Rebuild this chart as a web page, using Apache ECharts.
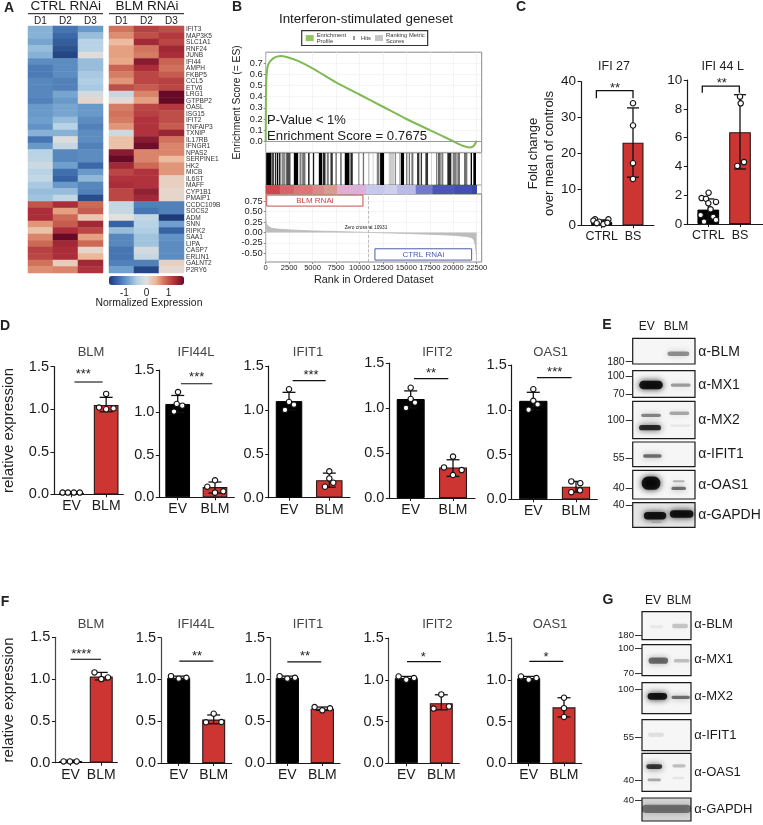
<!DOCTYPE html>
<html><head><meta charset="utf-8">
<style>html,body{margin:0;padding:0;background:#fff}#c{width:763px;height:825px}</style>
<script src="https://cdn.jsdelivr.net/npm/echarts@6/dist/echarts.min.js"></script>
</head><body><div id="c"></div>
<script>
// ---------- DATA: heatmap ----------
const genes=['IFIT3','MAP3K5','SLC1A1','RNF24','JUNB','IFI44','AMPH','FKBP5','CCL5','ETV6','LRG1','GTPBP2','OASL','ISG15','IFIT2','TNFAIP3','TXNIP','IL17RB','IFNGR1','NPAS2','SERPINE1','HK2','MICB','IL6ST','MAFF','CYP1B1','PMAIP1','CCDC109B','SOCS2','ADM','SNN','RIPK2','SAA1','LIPA','CASP7','ERLIN1','GALNT2','P2RY6'];
const donors=['D1','D2','D3'];
const ctrlValues=[[-.7,-1.2,-.9],[-.7,-1.3,-.6],[-.8,-1.4,-.4],[-.6,-1.5,-.4],[-.7,-1.6,-.05],[-1,-1,-.6],[-1.15,-1,-.6],[-1.15,-1,-.5],[-1.05,-1.1,-.45],[-1.05,-1.1,-.5],[-1.05,-.8,-.15],[-1.1,-.9,.1],[-.9,-.8,-.9],[-.9,-.8,-.9],[-.85,-.6,-1],[-.95,-.4,-1.1],[-.7,-.7,-1],[-1.2,-.05,-1],[-.9,-.25,-1.1],[-.4,-1.05,-1],[-.35,-1.05,-1],[-.2,-.85,-1.3],[-.4,-1.25,-.9],[-.3,-1.35,-.65],[-.5,-.9,-1.05],[-.6,-.6,-1.1],[-.55,-.3,-1.55],[1,1.3,.85],[1.3,.55,.95],[1.3,.85,.25],[.6,.95,1.35],[.3,1.3,1.1],[.7,1.7,.55],[.85,1.35,.85],[1.15,1.3,.1],[1.1,1.3,.4],[.8,.2,1.35],[.65,.7,1.25]];
const blmValues=[[.8,1.15,1.05],[.65,1.05,1.2],[.35,1.35,1.1],[.55,.8,1.35],[.55,.75,1.3],[.5,1.5,.9],[.9,1.3,.8],[.75,1.1,.95],[.6,1.1,1.15],[1.05,.95,1.1],[-.25,.7,1.8],[.05,.55,1.7],[.75,1.1,1.2],[.8,1.15,1.05],[.75,1.25,1.05],[.6,1.25,.95],[-.2,1.25,1.4],[.3,1.5,.8],[.3,1.65,.7],[1.5,.7,.7],[1.75,.7,.35],[1.35,.85,.6],[1.1,1.25,.6],[1.25,1.25,.15],[1.3,1.25,.15],[1.1,1.45,.1],[1.1,1.35,.1],[-.3,-1.1,-1.1],[-.25,-1.2,-1.1],[0,-.3,-1.8],[-1.35,-.4,-.85],[-.6,-.45,-1.35],[-1.05,-.55,-.95],[-1.05,-.55,-1],[-1.2,-.15,-1],[-1.2,-.25,-1],[-1.1,-1.1,.15],[-.85,-1.6,.05]];
// ---------- DATA: GSEA ----------
const esCurve=[[0,0],[15,.3],[40,.5],[100,.6],[200,.67],[400,.71],[800,.745],[1200,.76],[1700,.765],[2500,.75],[3500,.72],[5000,.655],[7500,.53],[10000,.42],[12500,.31],[15000,.2],[17500,.1],[20000,0],[21000,-.04],[21800,-.055],[22200,-.04],[22500,.005]];
const hitSegments=[[50,620,1],[690,870,.85],[975,1120,.85],[1190,1330,1],[1400,1580,.85],[1690,2110,.45],[2185,2645,.7],[3000,3460,1],[3600,3820,.5],[3890,4240,.55],[4530,4670,1],[5025,5170,.9],[5665,6020,1],[6090,6375,.85],[6515,6730,.5],[6905,7155,.8],[7440,7580,.6],[7970,8080,.85],[8430,8930,1],[9035,9285,.85],[9855,10000,.4],[10350,10495,.55],[10920,11060,.25],[11416,11487,.25],[11842,12126,.5],[12197,12623,1],[13120,13689,.2],[13760,13902,.45],[14257,14328,.45],[14399,14754,1],[14967,15109,.55],[15251,15393,.55],[15535,15748,.55],[16139,16387,.8],[16529,16671,.8],[17027,17311,.8],[17666,17737,.25],[18163,18305,.5],[18376,18660,.6],[18731,18944,.5],[19370,19796,.85],[19938,20365,.5],[20436,20720,.55],[21146,21501,.55],[21856,21998,1],[22140,22424,1]];
const stripSegments=[[0,1500,0],[1500,3000,1],[3000,5000,2],[5000,6200,3],[6200,7600,4],[7600,9000,5],[9000,10700,6],[10700,12700,7],[12700,14000,8],[14000,16000,9],[16000,17800,10],[17800,20000,11],[20000,22000,12],[22000,22480,13]];
const metricCurve=[[0,.32],[60,.22],[150,.17],[300,.13],[600,.1],[1200,.08],[2500,.06],[5000,.035],[7500,.02],[10000,.005],[10931,0],[12500,-.01],[15000,-.025],[17500,-.045],[20000,-.07],[21500,-.1],[22000,-.13],[22200,-.18],[22350,-.3],[22450,-.5],[22500,-.7]];
const rankTicks=[0,2500,5000,7500,10000,12500,15000,17500,20000,22500];
const esTicks=[0,.1,.2,.3,.4,.5,.6,.7];
const metricTicks=[.75,.5,.25,0,-.25,-.5];
const zeroCross=10931;
// ---------- DATA: panel C ----------
const cNames=['IFI 27','IFI 44 L'];
const cCats=['CTRL','BS'];
const cMeans=[[1,23],[1,6.38]];
const cErr=[[[.5,1.5],[13.4,32.7]],[[.3,1.74],[3.82,8.98]]];
const cPoints=[[[1.67,1.67,1,.7,1.3,.3,.6,.7],[34,27.8,17.3,12.9]],[[2.17,1.8,1.75,1.53,1.44,1.02,.62,.5,.16,.28],[8.84,8.38,4.3,4.03]]];
const cSig=[[.83,2,37.5,35.4,'**'],[.81,1.98,9.58,9.12,'**']];
// ---------- DATA: panel D ----------
const expressionGenes=['BLM','IFI44L','IFIT1','IFIT2','OAS1'];
const expressionCats=['EV','BLM'];
const dMeans=[[.02,1.05],[1.1,.12],[1.1,.2],[1.1,.34],[1.1,.14]];
const dErr=[[[0,.03],[.97,1.14]],[[1,1.2],[.05,.18]],[[1,1.2],[.12,.28]],[[1,1.19],[.24,.425]],[[1,1.195],[.08,.2]]];
const dPoints=[[[.02,.02,.02,.02],[1.18,1.02,1,1.01]],[[1.24,1.08,1.1,1.01],[.2,.125,.07,.055]],[[1.235,1.09,1.06,1],[.3,.22,.17,.125]],[[1.225,1.1,1.06,1],[.46,.34,.31,.255]],[[1.23,1.1,1.06,1],[.2,.18,.1,.08]]];
const dSig=[[1.085,1.897,1.32,null,'***'],[1.087,1.927,1.338,null,'***'],[1.09,1.91,1.333,null,'***'],[1.078,1.889,1.326,null,'**'],[1.086,1.897,1.359,null,'***']];
// ---------- DATA: panel F ----------
const fMeans=[[.02,1.03],[1.02,.52],[1.02,.65],[1.02,.72],[1.02,.67]];
const fErr=[[[0,.03],[.99,1.08]],[[1,1.04],[.47,.575]],[[1,1.04],[.63,.67]],[[1,1.04],[.64,.82]],[[1,1.04],[.555,.785]]];
const fPoints=[[[.015,.015,.015],[1.08,1,1.02]],[[1.04,1.01,1.02],[.487,.59,.49]],[[1.04,1.01,1.02],[.67,.63,.655]],[[1.04,1,1.02],[.655,.825,.68]],[[1.04,1,1.02],[.785,.66,.555]]];
const fSig=[[1,1.99,1.237,null,'****'],[1.017,1.989,1.22,null,'**'],[1,1.97,1.21,null,'**'],[1.02,1.99,1.217,null,'*'],[1.017,1.98,1.22,null,'*']];
// ---------- DATA: blots (lane x, y, half-width, half-height as blot fractions, darkness) ----------
const blotLanes=['EV','BLM'];
const blotNames=['α-BLM','α-MX1','α-MX2','α-IFIT1','α-OAS1','α-GAPDH'];
const blotEBands=[[[.733,.6,.176,.09,.45]],[[.294,.54,.19,.16,1],[.77,.54,.16,.06,.4]],[[.294,.375,.16,.045,.5],[.278,.705,.176,.07,.9],[.749,.32,.16,.045,.35],[.76,.65,.16,.03,.08]],[[.316,.57,.15,.07,.6]],[[.294,.45,.15,.23,1],[.738,.38,.096,.035,.3],[.738,.63,.118,.06,.6]],[[.358,.53,.18,.15,1],[.786,.46,.19,.15,1],[.385,.8,.08,.03,.2]]];
const blotGBands=[[[.3,.536,.136,.06,.06],[.776,.51,.163,.08,.22]],[[.333,.516,.2,.1,.6],[.81,.516,.163,.055,.25]],[[.313,.44,.2,.11,1],[.79,.473,.19,.055,.6]],[[.286,.484,.163,.075,.1]],[[.25,.35,.163,.06,.85],[.25,.7,.136,.035,.35],[.755,.33,.136,.045,.25],[.74,.65,.12,.035,.08]],[[.5,.47,.51,.18,.5]]];
const blotEMarkers=[[[.91,'180']],[[.19,'100'],[.89,'70']],[[.51,'100']],[[.66,'55']],[[.63,'40']],[[.095,'40']]];
const blotGMarkers=[[[.845,'180']],[[.11,'100'],[.925,'70']],[[.2,'100']],[[.56,'55']],[[.71,'40']],[[.105,'40']]];

// ---------- LAYOUT ----------
const FONT='"Liberation Sans",Arial,sans-serif';
const INK='#1a1a1a';
const layoutC=[
 {ax:581,right:654,top:81.7,base:225.3,c1:601.7,c2:633,bw:21,title:[614,66.7],star:[615,88],dx:[[-6.7,6.7,-2.7,3.3,-8.3,1.7,-5,5.7],[0,0,0,0]],max:40,int:10},
 {ax:687.3,right:762.7,top:80,base:224,c1:708.3,c2:740,bw:21.7,title:[722.7,66.7],star:[721.7,83.5],dx:[[.3,-6.7,-2.3,7.7,0,2.3,-7.7,5,-4.3,7.7],[0,.7,4,-2.7]],max:10,int:2}];
const layoutD=[
 {ax:45.3,right:123.3,top:366.7,base:494.3,c1:65,c2:104,bw:24.7,title:[91,352.7],star:[83.3,374.5],dx:[[-10,-4,2.7,9.3],[0,-8,0,8.3]]},
 {ax:159.3,right:234.3,top:370,base:497.3,c1:177.7,c2:215,bw:24.7,title:[196,352.7],star:[196.7,377.5],dx:[[.3,4.6,-1,-3.7],[0,-7.7,8.3,0]]},
 {ax:268.7,right:350,top:366,base:497.7,c1:289,c2:329.3,bw:26.5,title:[308,352.7],star:[311,375],dx:[[0,0,5,-4],[0,0,4,-4.3]]},
 {ax:389.3,right:475,top:363,base:498,c1:410.7,c2:453,bw:28,title:[437.3,352.7],star:[431,373.5],dx:[[0,0,4.3,-4.7],[0,-9,8.7,0]]},
 {ax:511.7,right:597.3,top:365,base:499.3,c1:533.3,c2:576,bw:28.3,title:[550.7,352.7],star:[554.7,372.5],dx:[[0,0,4.3,-4.7],[-4.7,4.3,4,-4.7]]}];
const layoutF=[
 {ax:46.7,right:117.3,top:637.3,base:762.7,c1:64,c2:99,bw:23,title:[91,624.3],star:[81.3,654.5],dx:[[-8,-.7,7],[-7.7,0,7.7]]},
 {ax:161,right:231.7,top:637.7,base:763,c1:178.7,c2:213.7,bw:23,title:[196,624.3],star:[197,656],dx:[[-7.7,0,7.7],[-7.7,0,7.7]]},
 {ax:270,right:340,top:637.7,base:763,c1:287.3,c2:322.3,bw:23.3,title:[308,624.3],star:[305,656.5],dx:[[-7.7,0,7.7],[-7.7,0,7.7]]},
 {ax:388.7,right:459.3,top:638,base:763.3,c1:406.3,c2:441.3,bw:23,title:[437.3,624.3],star:[423.3,657],dx:[[-7.7,0,7.7],[-7.7,0,7.7]]},
 {ax:511.3,right:581.7,top:638,base:763.3,c1:528.7,c2:564,bw:23,title:[550,624.3],star:[546,657],dx:[[-7.7,0,7.7],[0,0,0]]}];
const frameE=[[338.3,364],[370.7,397.3],[401.3,438.7],[442,466.7],[470.3,499],[502.7,527.3]];
const frameG=[[611.7,639.7],[644.7,675.7],[682.7,713.7],[719.7,750.7],[753.3,791.3],[798,821]];
const nameYE=[351.7,384.7,420.3,454.3,485,514.7];
const nameYG=[624,659,696.7,735,772,809.3];

// ---------- BUILD ----------
const grid=[],xAxis=[],yAxis=[],series=[],graphic=[];
function addGrid(g,x,y){grid.push(Object.assign({containLabel:false},g));const i=grid.length-1;xAxis.push(Object.assign({gridIndex:i},x));yAxis.push(Object.assign({gridIndex:i},y));return i;}
function text(x,y,str,size,o){o=o||{};graphic.push({type:'text',x:x,y:y,rotation:o.rot||0,silent:true,z:50,style:{text:str,fill:o.color||INK,fontFamily:FONT,fontSize:size,fontWeight:o.weight||'normal',align:o.align||'center',verticalAlign:'middle'}});}
function rule(x1,y,x2){graphic.push({type:'line',silent:true,z:50,shape:{x1:x1,y1:y,x2:x2,y2:y},style:{stroke:'#111',lineWidth:1}});}
const off={show:false};

// panel letters
[['A',9,8],['B',237,7],['C',521,7],['D',5,326],['E',607,325],['F',5,602],['G',608,600]].forEach(l=>text(l[1],l[2],l[0],14,{weight:'bold',color:'#222'}));

// A: heatmap
function heat(left,values){
  const gi=addGrid({left:left,top:26,width:75,height:247},
   {type:'category',data:donors,position:'top',axisLine:off,axisTick:off,splitLine:off,axisLabel:{fontSize:10,margin:0,color:INK}},
   {type:'category',data:genes,inverse:true,position:'right',axisLine:off,axisTick:off,splitLine:off,
    axisLabel:left>100?{fontSize:6.6,margin:2,interval:0,color:'#333'}:{show:false}});
  const d=[];values.forEach((r,y)=>r.forEach((v,x)=>d.push([x,y,v])));
  series.push({type:'heatmap',xAxisIndex:gi,yAxisIndex:gi,data:d,progressive:0,animation:false,silent:true,itemStyle:{borderWidth:0}});
  return series.length-1;
}
const h1=heat(28,ctrlValues),h2=heat(109,blmValues);
text(65.7,6.5,'CTRL RNAi',13.5);text(147,6.5,'BLM RNAi',13.5);
rule(28,13.7,103);rule(109,13.7,184);
addGrid({left:109,top:276,width:75,height:9},
 {type:'value',min:-1.7,max:1.7,position:'bottom',axisLine:off,splitLine:off,axisTick:{customValues:[-1.5,-1,-.5,0,.5,1,1.5],length:-3,lineStyle:{color:'#222',width:.8}},axisLabel:{customValues:[-1,0,1],fontSize:10,margin:3,color:INK}},
 {type:'value',show:false,min:0,max:1});
text(149,302.7,'Normalized Expression',10.4);

// B: GSEA
const gL=265.7,gW=216,rankMax=23033;
const gridFrame={show:true,borderColor:'#8a8a8a',borderWidth:1};
const dots={show:true,lineStyle:{color:'#e4e4e4',type:'dotted',width:.8}};
const i1=addGrid(Object.assign({left:gL,top:52.2,width:gW,height:100.2},gridFrame),
 {type:'value',min:0,max:rankMax,axisLine:off,axisLabel:off,axisTick:{show:false,customValues:rankTicks},splitLine:dots},
 {type:'value',min:-.1,max:.8,name:'Enrichment Score (= ES)',nameLocation:'middle',nameGap:24,nameTextStyle:{fontSize:10.3,color:'#222'},axisLine:off,
  axisTick:{customValues:esTicks,length:2,lineStyle:{color:'#888'}},axisLabel:{customValues:esTicks,formatter:v=>v.toFixed(1),fontSize:9.3,margin:3,color:'#222'},splitLine:dots});
series.push({name:'Enrichment Profile',type:'line',xAxisIndex:i1,yAxisIndex:i1,data:esCurve,smooth:.25,showSymbol:false,symbol:'none',lineStyle:{color:'#7fbb55',width:2},itemStyle:{color:'#8fc45e'},animation:false,silent:true,
 markLine:{silent:true,symbol:'none',label:off,lineStyle:{color:'#999',width:1,type:'solid'},data:[{yAxis:0}]}});
const i2=addGrid(Object.assign({left:gL,top:153,width:gW,height:32},gridFrame,{borderColor:'#bbb'}),
 {type:'value',min:0,max:rankMax,show:false},{type:'value',min:0,max:1,show:false});
series.push({name:'Hits',type:'custom',xAxisIndex:i2,yAxisIndex:i2,data:hitSegments,silent:true,animation:false,itemStyle:{color:'#000'},
 renderItem:(p,api)=>{const a=api.coord([api.value(0),1]),b=api.coord([api.value(1),0]);return {type:'rect',shape:{x:a[0],y:a[1],width:b[0]-a[0],height:b[1]-a[1]},style:{fill:'rgba(0,0,0,'+api.value(2)+')'}};}});
const stripColors=['#c9494e','#d4666a','#d97678','#d98a8a','#d99a90','#dfb0d4','#dcb0d8','#c6c8ec','#d0d0ee','#bbbce6','#7378c8','#4b55b4','#4450b0','#3a45a5'];
const i3=addGrid(Object.assign({left:gL,top:185,width:gW,height:9},gridFrame,{borderColor:'#bbb'}),
 {type:'value',min:0,max:rankMax,show:false},{type:'value',min:0,max:1,show:false});
series.push({type:'custom',xAxisIndex:i3,yAxisIndex:i3,data:stripSegments,silent:true,animation:false,
 renderItem:(p,api)=>{const a=api.coord([api.value(0),1]),b=api.coord([api.value(1),0]);return {type:'rect',shape:{x:a[0],y:a[1],width:b[0]-a[0]+.5,height:b[1]-a[1]},style:{fill:stripColors[api.value(2)]}};}});
const i4=addGrid(Object.assign({left:gL,top:194,width:gW,height:68},gridFrame),
 {type:'value',min:0,max:rankMax,name:'Rank in Ordered Dataset',nameLocation:'middle',nameGap:13,nameTextStyle:{fontSize:10.8,color:'#222'},axisLine:{show:false,onZero:false},
  axisTick:{customValues:rankTicks,length:2,lineStyle:{color:'#888'}},axisLabel:{customValues:rankTicks,formatter:v=>String(v),fontSize:7.6,margin:2,color:'#222'},splitLine:dots},
 {type:'value',min:-.71,max:.92,axisLine:off,axisTick:{customValues:metricTicks,length:2,lineStyle:{color:'#888'}},axisLabel:{customValues:metricTicks,formatter:v=>v.toFixed(2),fontSize:9.3,margin:3,color:'#222'},splitLine:dots});
series.push({name:'Ranking Metric Scores',type:'line',xAxisIndex:i4,yAxisIndex:i4,data:metricCurve,showSymbol:false,symbol:'none',lineStyle:{color:'#b8b8b8',width:.8},itemStyle:{color:'#c4c4c4'},areaStyle:{color:'#bdbdbd',opacity:1,origin:0},animation:false,silent:true,
 markLine:{silent:true,symbol:'none',label:off,lineStyle:{color:'#aaa',width:.8,type:'dashed'},data:[{xAxis:zeroCross}]},
 markArea:{silent:true,data:[
  [{coord:[107,.894],name:'BLM RNAi',itemStyle:{color:'#fff',borderColor:'#c8504a',borderWidth:1},label:{show:true,position:'inside',color:'#c8443c',fontSize:8}},{coord:[10370,.63]}],
  [{coord:[11650,-.393],name:'CTRL RNAi',itemStyle:{color:'#fff',borderColor:'#4f5da8',borderWidth:1},label:{show:true,position:'inside',color:'#4a5aa8',fontSize:8}},{coord:[21960,-.664]}]]}});
text(366,19,'Interferon-stimulated geneset',13.4);
text(267,120.7,'P-Value < 1%',13,{align:'left'});
text(267,136,'Enrichment Score = 0.7675',13.2,{align:'left'});
text(366,228,'Zero cross at '+zeroCross,4.8);

// bar charts
function barPanel(L,mean,err,pts,sig,cats,o){
  const slot=L.c2-L.c1;
  const gi=addGrid({left:L.ax,top:L.top,width:L.right-L.ax,height:L.base-L.top},
   {type:'value',min:1-(L.c1-L.ax)/slot,max:2+(L.right-L.c2)/slot,splitLine:off,axisLine:{show:true,onZero:false,lineStyle:{color:INK,width:1.2}},
    axisTick:{customValues:[1,2],length:3,lineStyle:{color:INK,width:1}},axisLabel:{customValues:[1,2],formatter:v=>cats[v-1],fontSize:o.fs,margin:5,color:INK}},
   {type:'value',min:0,max:o.max,interval:o.int,splitLine:off,name:o.yName||'',nameLocation:'middle',nameGap:o.nameGap||0,nameTextStyle:{fontSize:o.nameSize||15,color:'#222',lineHeight:16},
    axisLine:{show:true,onZero:false,lineStyle:{color:o.axisColor||INK,width:1.2}},axisTick:{length:3.5,lineStyle:{color:INK,width:1}},
    axisLabel:{formatter:v=>v.toFixed(o.fmt),fontSize:o.tick,margin:5,color:INK}});
  series.push({type:'bar',xAxisIndex:gi,yAxisIndex:gi,barWidth:L.bw,animation:false,silent:true,clip:false,
   data:[{value:[1,mean[0]],itemStyle:{color:'#000',borderColor:'#000',borderWidth:1}},{value:[2,mean[1]],itemStyle:{color:'#cc3531',borderColor:'#2c1414',borderWidth:1.1}}]});
  series.push({type:'custom',xAxisIndex:gi,yAxisIndex:gi,animation:false,silent:true,clip:false,z:3,
   data:[[1,err[0][0],err[0][1]],[2,err[1][0],err[1][1]]],
   renderItem:(p,api)=>{const t=api.coord([api.value(0),api.value(2)]),b=api.coord([api.value(0),api.value(1)]),c=o.cap||6.5,s={stroke:'#111',lineWidth:1.3};
    return {type:'group',children:[{type:'line',shape:{x1:t[0],y1:t[1],x2:b[0],y2:b[1]},style:s},{type:'line',shape:{x1:t[0]-c,y1:t[1],x2:t[0]+c,y2:t[1]},style:s},{type:'line',shape:{x1:b[0]-c,y1:b[1],x2:b[0]+c,y2:b[1]},style:s}]};}});
  const sc=[];pts.forEach((vals,lane)=>vals.forEach((v,k)=>sc.push([lane+1+L.dx[lane][k]/slot,v])));
  series.push({type:'scatter',xAxisIndex:gi,yAxisIndex:gi,data:sc,symbolSize:5.4,animation:false,silent:true,clip:false,z:4,itemStyle:{color:'#fff',borderColor:'#111',borderWidth:1.1,opacity:1}});
  series.push({type:'custom',xAxisIndex:gi,yAxisIndex:gi,animation:false,silent:true,clip:false,z:5,data:[[sig[0],sig[1],sig[2],sig[3]==null?sig[2]:sig[3]]],
   renderItem:(p,api)=>{const a=api.coord([api.value(0),api.value(2)]),b=api.coord([api.value(1),api.value(2)]),d=api.coord([api.value(0),api.value(3)]);
    return {type:'polyline',shape:{points:[[a[0],d[1]],a,b,[b[0],d[1]]]},style:{stroke:'#111',lineWidth:o.sigW||1.1,fill:null}};}});
  text(L.star[0],L.star[1],sig[4],13,{color:'#222'});
  text(L.title[0],L.title[1],o.title,o.titleSize||13,{color:o.titleColor||'#444'});
}
layoutC.forEach((L,i)=>barPanel(L,cMeans[i],cErr[i],cPoints[i],cSig[i],cCats,{max:L.max,int:L.int,fmt:0,fs:12.5,tick:13.5,cap:6,sigW:1.3,title:cNames[i],titleSize:12.5,titleColor:'#222',yName:i==0?'Fold change\nover mean of controls':'',nameGap:23,nameSize:13}));
layoutD.forEach((L,i)=>barPanel(L,dMeans[i],dErr[i],dPoints[i],dSig[i],expressionCats,{max:1.5,int:.5,fmt:1,fs:14,tick:14.5,title:expressionGenes[i],yName:i==0?'relative expression':'',nameGap:37}));
layoutF.forEach((L,i)=>barPanel(L,fMeans[i],fErr[i],fPoints[i],fSig[i],expressionCats,{max:1.5,int:.5,fmt:1,fs:14,tick:14.5,title:expressionGenes[i],axisColor:'#444',yName:i==0?'relative expression':'',nameGap:38.4}));

// blots
function blots(frames,left,width,bands,markers,nameX,nameYs,fs,nameFs,bgLast){
  frames.forEach((f,i)=>{
    const vals=markers[i].map(m=>m[0]),labs=markers[i].map(m=>m[1]);
    const gi=addGrid({left:left,top:f[0],width:width,height:f[1]-f[0],show:true,backgroundColor:(i==5?bgLast:'#f6f6f6'),borderColor:'#1a1a1a',borderWidth:1.2},
     {type:'value',min:0,max:1,show:false},
     {type:'value',min:0,max:1,inverse:true,splitLine:off,axisLine:off,axisTick:{customValues:vals,length:7,lineStyle:{color:'#333',width:1}},
      axisLabel:{customValues:vals,formatter:v=>labs[vals.indexOf(v)],fontSize:fs,margin:8,color:INK}});
    series.push({type:'custom',xAxisIndex:gi,yAxisIndex:gi,data:bands[i],animation:false,silent:true,clip:true,
     renderItem:(p,api)=>{const c=api.coord([api.value(0),api.value(1)]),s=api.size([1,1]),d=api.value(4),rx=api.value(2)*s[0],ry=api.value(3)*s[1];
      return {type:'rect',shape:{x:c[0]-rx,y:c[1]-ry,width:2*rx,height:2*ry,r:ry},style:{fill:'rgba(0,0,0,'+(d*.85)+')',shadowBlur:6,shadowColor:'rgba(0,0,0,'+d+')'}};}});
    text(nameX,nameYs[i],blotNames[i],nameFs,{align:'left'});
  });
}
blots(frameE,632.7,62.3,blotEBands,blotEMarkers,698.3,nameYE,10.5,14,'#e6e6e6');
blots(frameG,642,49,blotGBands,blotGMarkers,694.3,nameYG,9.6,13,'#d6d6d6');
text(646.7,326.7,blotLanes[0],12);text(676,326.7,blotLanes[1],12);
text(653,601,blotLanes[0],12);text(679,601,blotLanes[1],12);

const hitIcon='path://M0,5L0,5.001L0.001,5Z M9,0H11V10H9Z M20,5L20,5.001L19.999,5Z';
const option={animation:false,backgroundColor:'#fff',textStyle:{fontFamily:FONT},
 grid,xAxis,yAxis,series,graphic:{elements:graphic},
 visualMap:{type:'continuous',seriesIndex:[h1,h2],min:-1.7,max:1.7,calculable:false,show:true,orient:'horizontal',left:109,top:276,itemWidth:9,itemHeight:75,padding:0,text:null,showLabel:false,
  inRange:{color:['#1e3a78','#3d6cab','#6f9fcc','#b4d2e6','#e2dfdc','#efb593','#cd6a55','#ae2f3a','#660a28']},textStyle:{fontSize:1,color:'transparent'}},
 legend:{left:301.7,top:30.7,width:300,padding:[1,3,1,4],itemGap:4,itemWidth:8,itemHeight:6,borderColor:'#333',borderWidth:1.2,backgroundColor:'#fff',selectedMode:false,textStyle:{fontSize:5.8,lineHeight:6.4,color:'#333',padding:[0,0,0,-2]},
  formatter:n=>n=='Enrichment Profile'?'Enrichment\nProfile':n=='Ranking Metric Scores'?'Ranking Metric\nScores':n,
  data:[{name:'Enrichment Profile',icon:'rect'},{name:'Hits',icon:hitIcon},{name:'Ranking Metric Scores',icon:'rect'}]}
};
const chart=echarts.init(document.getElementById('c'),null,{renderer:'canvas',width:763,height:825});
chart.setOption(option);
</script></body></html>
